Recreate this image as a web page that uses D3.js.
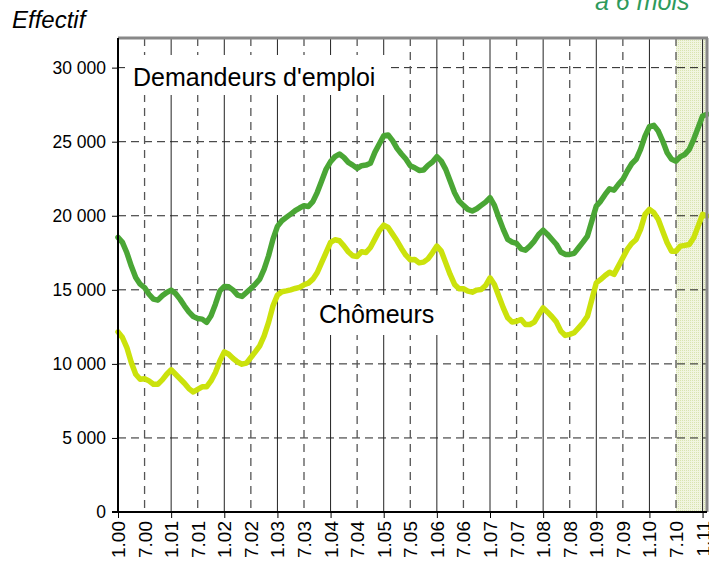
<!DOCTYPE html>
<html><head><meta charset="utf-8">
<script src="https://cdn.jsdelivr.net/npm/d3@7"></script>
<style>html,body{margin:0;padding:0;background:#fff;}svg{display:block;font-family:"Liberation Sans",Arial,sans-serif;}</style>
</head><body><svg id="c" width="709" height="565"></svg>
<script>
// Monthly values, Jan 2000 .. Feb 2011
const demandeurs = [
 18540,18200,17500,16600,15830,15380,15150,14700,14370,14300,14600,14820,
 14980,14750,14370,13920,13510,13200,13060,13020,12800,13250,14030,14930,
 15230,15200,14980,14640,14550,14820,15090,15380,15720,16400,17300,18420,
 19280,19660,19890,20110,20340,20520,20680,20630,20950,21580,22360,23150,
 23650,23990,24170,23940,23600,23420,23200,23380,23420,23540,24280,24840,
 25400,25450,25070,24550,24170,23830,23380,23240,23060,23090,23400,23630,
 23990,23690,23130,22340,21550,20990,20700,20430,20320,20470,20700,20920,
 21220,20700,19860,19080,18400,18220,18130,17770,17680,17950,18290,18740,
 19030,18740,18400,18060,17550,17390,17390,17460,17840,18220,18630,19640,
 20650,20990,21440,21820,21730,22120,22450,23020,23510,23810,24480,25380,
 26010,26100,25720,25040,24260,23810,23690,23990,24140,24480,25160,25950,
 26730,26850];
const chomeurs = [
 12160,11780,11100,10090,9300,8960,9000,8850,8630,8630,8920,9300,
 9600,9300,9000,8690,8330,8100,8280,8450,8450,8850,9420,10200,
 10810,10650,10360,10130,9980,10050,10430,10810,11220,11890,12800,13920,
 14640,14870,14930,15000,15090,15160,15340,15450,15720,16170,16850,17520,
 18200,18380,18310,17970,17570,17300,17250,17570,17520,17860,18420,18990,
 19370,19210,18760,18310,17790,17340,17030,17050,16820,16870,17090,17500,
 17950,17610,16820,16040,15360,15070,15070,14910,14840,14980,15020,15290,
 15810,15360,14570,13780,13110,12820,12880,13000,12660,12660,12820,13330,
 13780,13490,13180,12820,12210,11920,11990,12100,12430,12770,13220,14350,
 15470,15700,15970,16190,16040,16600,17160,17730,18130,18400,19080,20090,
 20430,20200,19750,18960,18180,17610,17610,17950,18000,18060,18510,19300,
 20090,19980];
const xTickLabels = ["1.00","7.00","1.01","7.01","1.02","7.02","1.03","7.03","1.04","7.04","1.05","7.05","1.06","7.06","1.07","7.07","1.08","7.08","1.09","7.09","1.10","7.10","1.11"];
const yTicks = [0,5000,10000,15000,20000,25000,30000];
const yTickLabels = ["0","5 000","10 000","15 000","20 000","25 000","30 000"];
const forecastStart = 126; // Jul 2010 (month index)

const svg = d3.select("#c");
const L=118, R=707, T=38, B=512;
const x = d3.scaleLinear().domain([0, demandeurs.length-1]).range([L,R]);
const y = d3.scaleLinear().domain([0,32000]).range([B,T]);

// pattern for forecast zone
const defs = svg.append("defs");
const pat = defs.append("pattern").attr("id","dots").attr("width",2).attr("height",2).attr("patternUnits","userSpaceOnUse");
pat.append("rect").attr("width",2).attr("height",2).attr("fill","#f1f5e0");
pat.append("rect").attr("width",1).attr("height",1).attr("fill","#d9e4b0");

svg.append("rect").attr("x",x(forecastStart)).attr("y",T).attr("width",R-x(forecastStart)).attr("height",B-T).attr("fill","url(#dots)");

// horizontal grid
svg.append("g").selectAll("line").data(yTicks.filter(d=>d>0)).join("line")
 .attr("x1",L).attr("x2",R).attr("y1",d=>y(d)).attr("y2",d=>y(d))
 .attr("stroke","#222").attr("stroke-width",1).attr("stroke-dasharray","8,5");

// vertical grid
const xt = xTickLabels.map((l,i)=>({l, m:i*6}));
svg.append("g").selectAll("line").data(xt.filter(d=>d.m>0)).join("line")
 .attr("x1",d=>x(d.m)).attr("x2",d=>x(d.m)).attr("y1",T).attr("y2",B)
 .attr("stroke",d=>d.m%12===0?"#222":"#555")
 .attr("stroke-width",d=>d.m%12===0?1:1.3)
 .attr("stroke-dasharray",d=>d.m%12===0?null:"8,6");

// label boxes
svg.append("rect").attr("x",125).attr("y",55).attr("width",262).attr("height",40).attr("fill","#fff");
svg.append("rect").attr("x",307).attr("y",295).attr("width",155).attr("height",40).attr("fill","#fff");

// lines
const line = d3.line().x((d,i)=>x(i)).y(d=>y(d));
svg.append("path").datum(demandeurs).attr("d",line).attr("fill","none").attr("stroke","#4aa635").attr("stroke-width",5.5).attr("stroke-linejoin","round").attr("stroke-linecap","round");
svg.append("path").datum(chomeurs).attr("d",line).attr("fill","none").attr("stroke","#cbe20c").attr("stroke-width",5.5).attr("stroke-linejoin","round").attr("stroke-linecap","round");

// frame
svg.append("line").attr("x1",L).attr("x2",R+1).attr("y1",T).attr("y2",T).attr("stroke","#888").attr("stroke-width",3);
svg.append("line").attr("x1",R).attr("x2",R).attr("y1",T).attr("y2",B).attr("stroke","#888").attr("stroke-width",3);

// axes
const yAxis = d3.axisLeft(y).tickValues(yTicks).tickFormat((d,i)=>yTickLabels[i]).tickSize(6).tickPadding(6);
const gy = svg.append("g").attr("transform",`translate(${L},0)`).call(yAxis);
gy.select(".domain").attr("d",`M0,${T}V${B}`).attr("stroke","#000").attr("stroke-width",2);
gy.selectAll(".tick line").attr("stroke","#000");
gy.selectAll("text").attr("font-size",17.5).attr("fill","#000").attr("font-family","Liberation Sans, Arial, sans-serif");

const xAxis = d3.axisBottom(x).tickValues(xt.filter(d=>d.m%12===0).map(d=>d.m)).tickFormat("").tickSize(6);
const gx = svg.append("g").attr("transform",`translate(0,${B})`).call(xAxis);
gx.select(".domain").attr("d",`M${L-6},0H${R}`).attr("stroke","#000").attr("stroke-width",2);
gx.selectAll(".tick line").attr("stroke","#000");

svg.append("g").selectAll("text").data(xt).join("text")
 .attr("transform",d=>`translate(${x(d.m)+7},521) rotate(-90)`)
 .attr("text-anchor","end").attr("font-size",19).attr("fill","#000").text(d=>d.l);

// texts
svg.append("text").attr("x",12).attr("y",28).attr("font-size",24).attr("font-style","italic").attr("fill","#000").text("Effectif");
svg.append("text").attr("x",595).attr("y",10).attr("font-size",25).attr("font-style","italic").attr("fill","#2e9a5c").text("à 6 mois");
svg.append("text").attr("x",133).attr("y",86).attr("font-size",25).attr("fill","#000").text("Demandeurs d'emploi");
svg.append("text").attr("x",319).attr("y",323).attr("font-size",25).attr("fill","#000").text("Chômeurs");
</script></body></html>
